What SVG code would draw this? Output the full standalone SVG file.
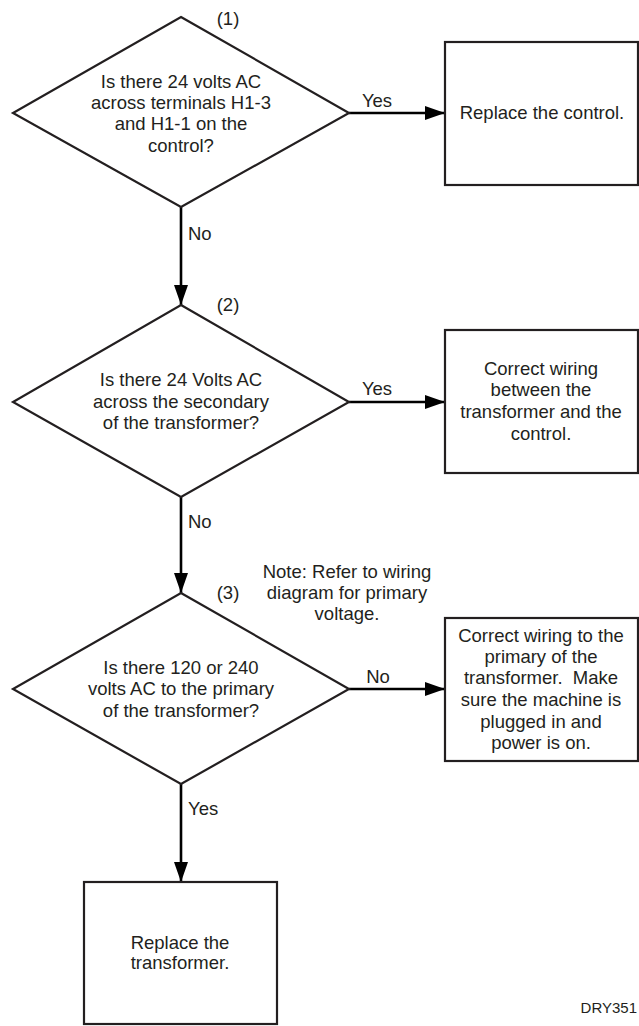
<svg xmlns="http://www.w3.org/2000/svg" width="639" height="1026" viewBox="0 0 639 1026">
<style>
  .t{font-family:"Liberation Sans",Arial,sans-serif;font-size:18.5px;fill:#231f20;text-anchor:middle}
  .l{font-family:"Liberation Sans",Arial,sans-serif;font-size:18.5px;fill:#231f20}
  .shape{fill:#fff;stroke:#231f20;stroke-width:2.2}
  .conn{stroke:#000;stroke-width:2.6;fill:none}
</style>
<defs>
  <marker id="ah" markerUnits="userSpaceOnUse" markerWidth="20" markerHeight="14" refX="20" refY="7" orient="auto">
    <path d="M0,0 L20,7 L0,14 Z" fill="#000"/>
  </marker>
</defs>
<rect width="639" height="1026" fill="#fff"/>

<g id="connectors">
  <line class="conn" x1="349" y1="113" x2="445" y2="113" marker-end="url(#ah)"/>
  <line class="conn" x1="181" y1="207" x2="181" y2="305" marker-end="url(#ah)"/>
  <line class="conn" x1="349" y1="402" x2="445" y2="402" marker-end="url(#ah)"/>
  <line class="conn" x1="181" y1="497" x2="181" y2="593" marker-end="url(#ah)"/>
  <line class="conn" x1="349" y1="689" x2="445" y2="689" marker-end="url(#ah)"/>
  <line class="conn" x1="181" y1="784" x2="181" y2="882" marker-end="url(#ah)"/>
  <text class="t" x="377" y="107">Yes</text>
  <text class="l" x="188" y="240">No</text>
  <text class="t" x="377" y="395">Yes</text>
  <text class="l" x="188" y="528">No</text>
  <text class="t" x="378" y="683">No</text>
  <text class="l" x="188" y="815">Yes</text>
</g>

<g id="d1">
  <polygon class="shape" points="181,17 349,113 181,207 13,113"/>
  <text class="t" x="228" y="25">(1)</text>
  <text class="t" x="181" y="88">Is there 24 volts AC</text>
  <text class="t" x="181" y="109">across terminals H1-3</text>
  <text class="t" x="181" y="130">and H1-1 on the</text>
  <text class="t" x="181" y="152">control?</text>
</g>

<g id="b1">
  <rect class="shape" x="445" y="42" width="193" height="143"/>
  <text class="t" x="542" y="119">Replace the control.</text>
</g>

<g id="d2">
  <polygon class="shape" points="181,305 349,402 181,497 13,402"/>
  <text class="t" x="228" y="311">(2)</text>
  <text class="t" x="181" y="386">Is there 24 Volts AC</text>
  <text class="t" x="181" y="408">across the secondary</text>
  <text class="t" x="181" y="429">of the transformer?</text>
</g>

<g id="b2">
  <rect class="shape" x="445" y="330" width="193" height="143"/>
  <text class="t" x="541" y="375">Correct wiring</text>
  <text class="t" x="541" y="396">between the</text>
  <text class="t" x="541" y="418">transformer and the</text>
  <text class="t" x="541" y="440">control.</text>
</g>

<g id="note">
  <text class="t" x="347" y="578">Note: Refer to wiring</text>
  <text class="t" x="347" y="599">diagram for primary</text>
  <text class="t" x="347" y="620">voltage.</text>
</g>

<g id="d3">
  <polygon class="shape" points="181,593 349,689 181,784 13,689"/>
  <text class="t" x="228" y="599">(3)</text>
  <text class="t" x="181" y="674">Is there 120 or 240</text>
  <text class="t" x="181" y="695">volts AC to the primary</text>
  <text class="t" x="181" y="717">of the transformer?</text>
</g>

<g id="b3">
  <rect class="shape" x="445" y="618" width="193" height="143"/>
  <text class="t" x="541" y="642">Correct wiring to the</text>
  <text class="t" x="541" y="663">primary of the</text>
  <text class="t" x="541" y="684" xml:space="preserve">transformer.  Make</text>
  <text class="t" x="541" y="706">sure the machine is</text>
  <text class="t" x="541" y="728">plugged in and</text>
  <text class="t" x="541" y="749">power is on.</text>
</g>

<g id="b4">
  <rect class="shape" x="84" y="882" width="193" height="142"/>
  <text class="t" x="180" y="949">Replace the</text>
  <text class="t" x="180" y="969">transformer.</text>
</g>

<g id="label">
  <text class="l" x="637" y="1013" style="text-anchor:end;font-size:15px">DRY351</text>
</g>
</svg>
